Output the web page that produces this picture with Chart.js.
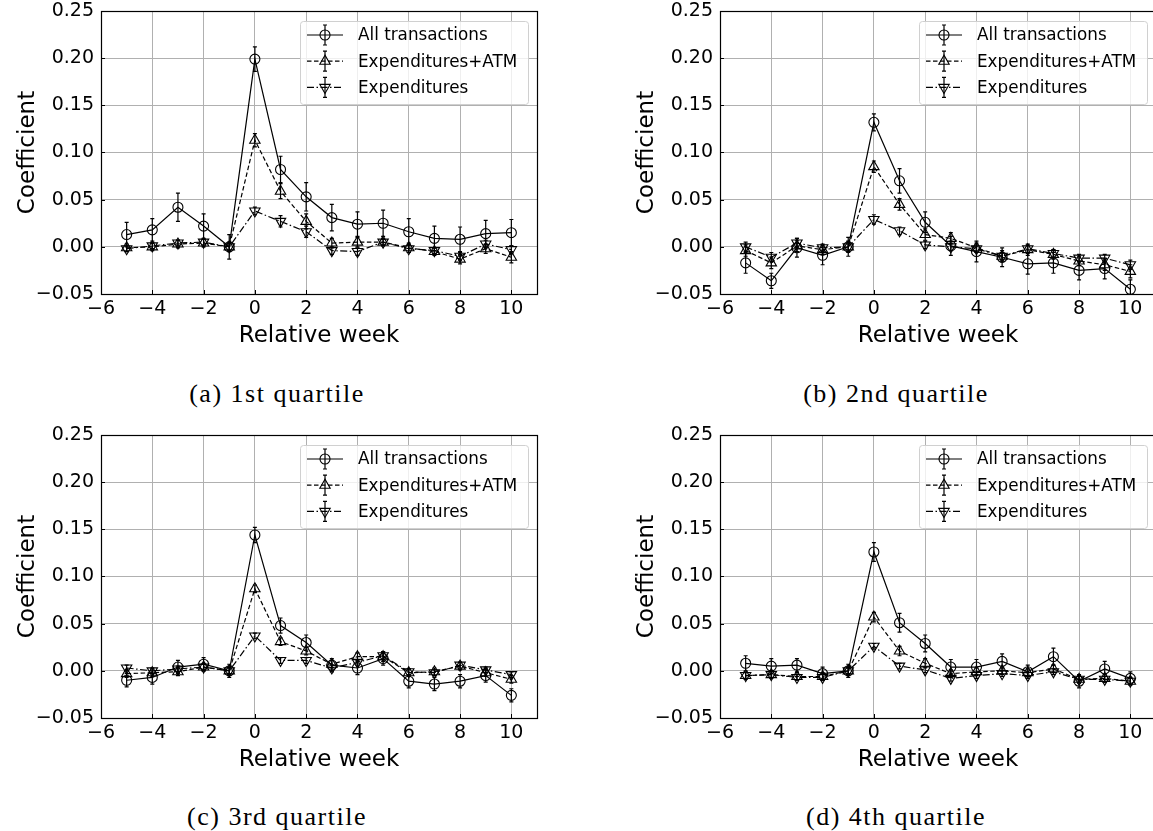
<!DOCTYPE html>
<html>
<head>
<meta charset="utf-8">
<script src="https://cdn.jsdelivr.net/npm/chart.js@4.4.1/dist/chart.umd.min.js"></script>
<style>
html, body { margin: 0; padding: 0; background: #fff; }
body { position: relative; width: 1153px; height: 831px; overflow: hidden; }
.panel { position: absolute; width: 560px; height: 350px; }
.caption {
    position: absolute; width: 320px; margin-left: -160px; margin-top: -16px;
    text-align: center; white-space: nowrap; color: #000;
    font-family: "Liberation Serif", serif; font-size: 26px; line-height: 32px; letter-spacing: 1.5px;
}
</style>
</head>
<body>
<div class="panel" style="left:0px;top:0px"><canvas id="chartA"></canvas></div>
<div class="panel" style="left:619px;top:0px"><canvas id="chartB"></canvas></div>
<div class="panel" style="left:0px;top:424px"><canvas id="chartC"></canvas></div>
<div class="panel" style="left:619px;top:424px"><canvas id="chartD"></canvas></div>
<div class="caption" style="left:277px;top:394px">(a) 1st quartile</div>
<div class="caption" style="left:896px;top:394px">(b) 2nd quartile</div>
<div class="caption" style="left:277px;top:817px">(c) 3rd quartile</div>
<div class="caption" style="left:896px;top:817px">(d) 4th quartile</div>

<script>
// relative weeks and tick values
const weeks = [-5, -4, -3, -2, -1, 0, 1, 2, 3, 4, 5, 6, 7, 8, 9, 10];
const xTickValues = [-6, -4, -2, 0, 2, 4, 6, 8, 10];
const yTickValues = [-0.05, 0, 0.05, 0.10, 0.15, 0.20, 0.25];
const seriesNames = ['All transactions', 'Expenditures+ATM', 'Expenditures'];

// (a) 1st quartile
const allA    = [0.013, 0.018, 0.042, 0.022, 0.000, 0.199, 0.082, 0.053, 0.031, 0.024, 0.025, 0.016, 0.009, 0.008, 0.014, 0.015];
const allErrA = [0.013, 0.012, 0.015, 0.013, 0.013, 0.013, 0.014, 0.015, 0.014, 0.013, 0.014, 0.014, 0.013, 0.013, 0.014, 0.014];
const atmA    = [-0.001, 0.000, 0.003, 0.004, 0.000, 0.113, 0.059, 0.027, 0.004, 0.005, 0.005, -0.001, -0.005, -0.013, -0.002, -0.011];
const atmErrA = [0.004, 0.004, 0.004, 0.004, 0.005, 0.007, 0.008, 0.008, 0.005, 0.005, 0.004, 0.005, 0.004, 0.005, 0.005, 0.006];
const expA    = [-0.002, 0.001, 0.004, 0.005, 0.000, 0.038, 0.027, 0.016, -0.004, -0.005, 0.005, -0.002, -0.004, -0.010, 0.003, -0.003];
const expErrA = [0.003, 0.003, 0.003, 0.003, 0.004, 0.004, 0.006, 0.006, 0.004, 0.004, 0.003, 0.004, 0.003, 0.004, 0.004, 0.004];

// (b) 2nd quartile
const allB    = [-0.017, -0.036, -0.001, -0.009, 0.000, 0.132, 0.070, 0.026, 0.001, -0.005, -0.011, -0.018, -0.017, -0.025, -0.023, -0.045];
const allErrB = [0.011, 0.008, 0.010, 0.010, 0.010, 0.009, 0.013, 0.011, 0.010, 0.011, 0.010, 0.011, 0.011, 0.010, 0.011, 0.010];
const atmB    = [-0.004, -0.017, 0.001, -0.003, 0.000, 0.085, 0.045, 0.013, 0.009, -0.001, -0.010, -0.003, -0.008, -0.015, -0.019, -0.026];
const atmErrB = [0.006, 0.006, 0.006, 0.005, 0.006, 0.006, 0.006, 0.006, 0.006, 0.005, 0.006, 0.006, 0.005, 0.005, 0.006, 0.007];
const expB    = [0.000, -0.011, 0.004, -0.001, 0.000, 0.029, 0.017, 0.002, 0.000, -0.002, -0.010, -0.002, -0.007, -0.012, -0.012, -0.019];
const expErrB = [0.005, 0.005, 0.005, 0.004, 0.005, 0.005, 0.004, 0.004, 0.004, 0.004, 0.004, 0.004, 0.004, 0.004, 0.004, 0.005];

// (c) 3rd quartile
const allC    = [-0.010, -0.007, 0.004, 0.007, 0.000, 0.144, 0.048, 0.030, 0.006, 0.003, 0.013, -0.011, -0.014, -0.011, -0.005, -0.026];
const allErrC = [0.007, 0.007, 0.007, 0.007, 0.007, 0.008, 0.008, 0.008, 0.007, 0.007, 0.007, 0.007, 0.007, 0.007, 0.007, 0.007];
const atmC    = [-0.003, -0.002, -0.001, 0.004, 0.000, 0.087, 0.031, 0.021, 0.007, 0.015, 0.015, -0.002, -0.001, 0.005, -0.002, -0.009];
const atmErrC = [0.004, 0.004, 0.004, 0.004, 0.004, 0.004, 0.004, 0.004, 0.004, 0.004, 0.005, 0.004, 0.004, 0.004, 0.004, 0.004];
const expC    = [0.003, 0.000, 0.002, 0.004, 0.000, 0.037, 0.011, 0.011, 0.003, 0.009, 0.016, -0.001, -0.002, 0.006, 0.001, -0.004];
const expErrC = [0.003, 0.003, 0.003, 0.003, 0.003, 0.003, 0.003, 0.003, 0.003, 0.003, 0.004, 0.003, 0.003, 0.003, 0.003, 0.003];

// (d) 4th quartile
const allD    = [0.008, 0.005, 0.006, -0.003, 0.000, 0.126, 0.051, 0.029, 0.004, 0.004, 0.010, -0.001, 0.015, -0.011, 0.002, -0.008];
const allErrD = [0.008, 0.008, 0.007, 0.007, 0.007, 0.010, 0.010, 0.009, 0.008, 0.008, 0.008, 0.007, 0.009, 0.007, 0.008, 0.007];
const atmD    = [-0.005, -0.004, -0.006, -0.006, 0.000, 0.057, 0.021, 0.008, -0.003, -0.001, 0.000, -0.002, 0.002, -0.009, -0.008, -0.011];
const atmErrD = [0.004, 0.004, 0.004, 0.004, 0.004, 0.005, 0.005, 0.005, 0.004, 0.004, 0.004, 0.004, 0.004, 0.004, 0.004, 0.004];
const expD    = [-0.005, -0.004, -0.007, -0.007, 0.000, 0.026, 0.005, 0.001, -0.008, -0.005, -0.003, -0.005, -0.001, -0.009, -0.009, -0.011];
const expErrD = [0.003, 0.003, 0.003, 0.003, 0.003, 0.003, 0.003, 0.003, 0.003, 0.003, 0.003, 0.003, 0.003, 0.003, 0.003, 0.003];

const sansFont = '"DejaVu Sans", sans-serif';
const lineStyles = [
    { dash: [], marker: 'circle' },
    { dash: [4.5, 2.5], marker: 'up' },
    { dash: [7, 2.5, 1.5, 2.5], marker: 'down' },
];

// matplotlib-style minus sign
function fmtTick(v, digits) {
    const s = Math.abs(v).toFixed(digits);
    return v < -1e-9 ? '\u2212' + s : s;
}

function drawMarker(ctx, style, x, y, r) {
    ctx.beginPath();
    if (style === 'circle') {
        ctx.arc(x, y, r, 0, Math.PI * 2);
    } else {
        const d = style === 'up' ? -1 : 1;
        ctx.moveTo(x, y + d * r);
        ctx.lineTo(x - r * 0.866, y - d * r * 0.5);
        ctx.lineTo(x + r * 0.866, y - d * r * 0.5);
        ctx.closePath();
    }
    ctx.stroke();
}

function drawErrorBar(ctx, x, y1, y2, cap) {
    ctx.beginPath();
    ctx.moveTo(x, y1); ctx.lineTo(x, y2);
    ctx.moveTo(x - cap, y1); ctx.lineTo(x + cap, y1);
    ctx.moveTo(x - cap, y2); ctx.lineTo(x + cap, y2);
    ctx.stroke();
}

// error bars, frame, inward ticks and the legend box
const errorBarPlugin = {
    id: 'errorBars',
    afterDatasetsDraw(chart) {
        const ctx = chart.ctx;
        const ys = chart.scales.y;
        const ca = chart.chartArea;
        ctx.save();
        ctx.beginPath();
        ctx.rect(ca.left, ca.top, ca.right - ca.left, ca.bottom - ca.top);
        ctx.clip();
        ctx.strokeStyle = '#000';
        ctx.lineWidth = 1.2;
        chart.data.datasets.forEach((ds, i) => {
            const meta = chart.getDatasetMeta(i);
            ds.data.forEach((p, j) => {
                const e = ds.errors[j];
                drawErrorBar(ctx, meta.data[j].x, ys.getPixelForValue(p.y + e), ys.getPixelForValue(p.y - e), 2);
            });
        });
        ctx.restore();
    },
    afterDraw(chart) {
        const ctx = chart.ctx;
        const ca = chart.chartArea;
        ctx.save();
        // inward ticks
        ctx.strokeStyle = '#000';
        ctx.lineWidth = 1;
        ctx.beginPath();
        xTickValues.forEach(v => {
            const px = Math.round(chart.scales.x.getPixelForValue(v)) + 0.5;
            ctx.moveTo(px, ca.bottom); ctx.lineTo(px, ca.bottom - 4);
        });
        yTickValues.forEach(v => {
            const py = Math.round(chart.scales.y.getPixelForValue(v)) + 0.5;
            ctx.moveTo(ca.left, py); ctx.lineTo(ca.left + 4, py);
        });
        ctx.stroke();
        // frame
        ctx.lineWidth = 1.2;
        ctx.strokeRect(Math.round(ca.left) + 0.5, Math.round(ca.top) + 0.5,
            Math.round(ca.right - ca.left), Math.round(ca.bottom - ca.top));

        // legend
        const bx = ca.left + 199, by = ca.top + 10, bw = 228, bh = 83;
        ctx.beginPath();
        ctx.roundRect(bx + 0.5, by + 0.5, bw, bh, 3);
        ctx.fillStyle = 'rgba(255,255,255,0.8)';
        ctx.fill();
        ctx.strokeStyle = '#d0d0d0';
        ctx.lineWidth = 1;
        ctx.stroke();

        ctx.font = '16.8px ' + sansFont;
        ctx.textBaseline = 'middle';
        ctx.textAlign = 'left';
        seriesNames.forEach((name, i) => {
            const ry = by + 14 + i * 26.2;
            const st = lineStyles[i];
            ctx.strokeStyle = '#000';
            ctx.lineWidth = 1.2;
            ctx.setLineDash(st.dash);
            ctx.beginPath();
            ctx.moveTo(bx + 7, ry); ctx.lineTo(bx + 43, ry);
            ctx.stroke();
            ctx.setLineDash([]);
            drawErrorBar(ctx, bx + 25, ry - 10, ry + 10, 2);
            ctx.lineWidth = 1.1;
            drawMarker(ctx, st.marker, bx + 25, ry, st.marker === 'circle' ? 5 : 6);
            ctx.fillStyle = '#000';
            ctx.fillText(name, bx + 58, ry + 1);
        });
        ctx.restore();
    }
};

function makeDataset(i, values, errors) {
    const st = lineStyles[i];
    return {
        label: seriesNames[i],
        data: weeks.map((w, j) => ({ x: w, y: values[j] })),
        errors: errors,
        borderColor: '#000',
        borderWidth: 1.2,
        borderDash: st.dash,
        fill: false,
        tension: 0,
        pointStyle: st.marker === 'circle' ? 'circle' : 'triangle',
        pointRotation: st.marker === 'down' ? 180 : 0,
        pointRadius: st.marker === 'circle' ? 5 : 6,
        pointBorderWidth: 1.1,
        pointBorderColor: '#000',
        pointBackgroundColor: 'rgba(0,0,0,0)',
    };
}

function makeChart(id, all, allErr, atm, atmErr, exp, expErr) {
    return new Chart(document.getElementById(id), {
        type: 'line',
        data: {
            datasets: [
                makeDataset(0, all, allErr),
                makeDataset(1, atm, atmErr),
                makeDataset(2, exp, expErr),
            ],
        },
        options: {
            responsive: true,
            maintainAspectRatio: false,
            animation: false,
            layout: { padding: { top: 11, right: 23, left: 0, bottom: 0 } },
            plugins: { legend: { display: false }, tooltip: { enabled: false } },
            scales: {
                x: {
                    type: 'linear', min: -6, max: 11,
                    afterBuildTicks: s => { s.ticks = xTickValues.map(v => ({ value: v })); },
                    afterFit: s => { s.height = 56; s.paddingLeft = 0; s.paddingRight = 0; },
                    grid: { color: '#b0b0b0', lineWidth: 1, drawTicks: false },
                    border: { display: false },
                    ticks: {
                        color: '#000', padding: 4, maxRotation: 0, autoSkip: false,
                        font: { family: sansFont, size: 19 },
                        callback: v => fmtTick(v, 0),
                    },
                    title: {
                        display: true, text: 'Relative week', color: '#000',
                        font: { family: sansFont, size: 23 }, padding: { top: 0, bottom: 0 },
                    },
                },
                y: {
                    type: 'linear', min: -0.05, max: 0.25,
                    afterBuildTicks: s => { s.ticks = yTickValues.map(v => ({ value: v })); },
                    afterFit: s => { s.width = 101; s.paddingTop = 0; s.paddingBottom = 0; },
                    grid: { color: '#b0b0b0', lineWidth: 1, drawTicks: false },
                    border: { display: false },
                    ticks: {
                        color: '#000', padding: 7, autoSkip: false,
                        font: { family: sansFont, size: 19 },
                        callback: v => fmtTick(v, 2),
                    },
                    title: {
                        display: true, text: 'Coefficient', color: '#000',
                        font: { family: sansFont, size: 23 }, padding: { top: 14, bottom: 0 },
                    },
                },
            },
        },
        plugins: [errorBarPlugin],
    });
}

makeChart('chartA', allA, allErrA, atmA, atmErrA, expA, expErrA);
makeChart('chartB', allB, allErrB, atmB, atmErrB, expB, expErrB);
makeChart('chartC', allC, allErrC, atmC, atmErrC, expC, expErrC);
makeChart('chartD', allD, allErrD, atmD, atmErrD, expD, expErrD);
</script>
</body>
</html>
